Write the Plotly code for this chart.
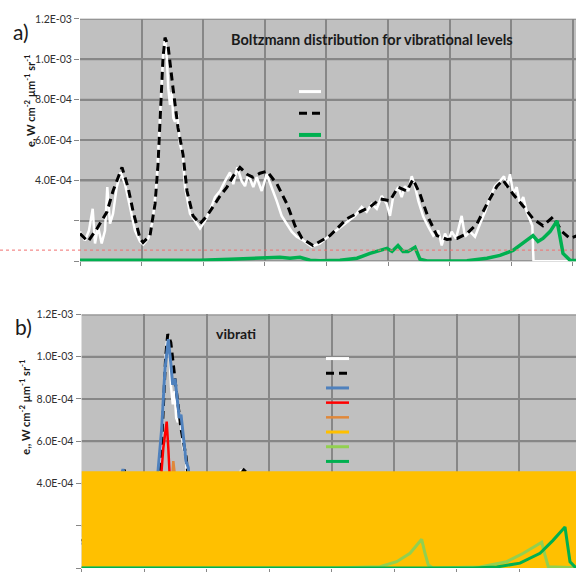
import plotly.graph_objects as go

W, H = 576, 572
SCALE = 1e-4  # series values below are stored in units of 1E-04

# ---------------- panel a data ----------------
x_meas = [0.000, 0.081, 0.146, 0.206, 0.244, 0.292, 0.352, 0.406, 0.443, 0.487,
          0.536, 0.596, 0.661, 0.731, 0.812, 0.893, 0.974, 1.028, 1.109, 1.180,
          1.245, 1.299, 1.352, 1.380, 1.407, 1.433, 1.461, 1.489, 1.515, 1.542,
          1.580, 1.623, 1.667, 1.705, 1.786, 1.867, 1.948, 2.029, 2.110, 2.192,
          2.273, 2.354, 2.435, 2.489, 2.554, 2.625, 2.679, 2.732, 2.813, 2.869,
          2.950, 3.031, 3.112, 3.193, 3.274, 3.356, 3.437, 3.518, 3.625, 3.761,
          3.896, 4.031, 4.140, 4.248, 4.356, 4.464, 4.573, 4.654, 4.735, 4.817,
          4.898, 4.979, 5.032, 5.086, 5.167, 5.222, 5.276, 5.330, 5.385, 5.438,
          5.492, 5.573, 5.654, 5.735, 5.817, 5.872, 5.925, 5.979, 6.034, 6.104,
          6.196, 6.250, 6.331, 6.412, 6.494, 6.575, 6.656, 6.737, 6.818, 6.883,
          6.927, 6.981, 7.034, 7.089, 7.143, 7.196, 7.252, 7.305, 7.343, 7.362,
          8.100]
y_meas = [1.47, 1.03, 1.52, 2.60, 0.88, 1.71, 0.88, 1.52, 3.67, 1.86,
          2.35, 3.67, 4.40, 3.82, 2.69, 1.52, 0.98, 0.83, 1.13, 2.00,
          3.97, 7.25, 10.33, 11.00, 10.20, 8.57, 7.74, 8.37, 7.10, 6.90,
          7.25, 5.78, 5.29, 3.67, 2.35, 2.00, 1.62, 2.00, 2.50, 3.18,
          3.48, 3.97, 4.40, 3.82, 4.65, 3.97, 3.72, 4.31, 3.67, 4.16,
          3.48, 4.31, 3.67, 2.99, 2.25, 1.86, 1.47, 1.22, 1.03, 0.73,
          0.88, 1.22, 1.47, 1.76, 2.00, 2.25, 2.69, 2.45, 2.84, 2.60,
          3.23, 2.84, 2.25, 3.23, 3.67, 3.18, 3.72, 3.48, 4.21, 3.72,
          2.99, 2.20, 1.71, 1.27, 1.52, 0.78, 1.37, 1.03, 1.47, 1.13,
          2.25, 1.22, 1.47, 1.22, 1.86, 2.45, 3.18, 3.72, 3.97, 4.21,
          3.67, 4.31, 3.33, 3.67, 2.84, 3.18, 2.45, 2.00, 1.76, 0.00,
          0.00]

x_model = [0.000, 0.130, 0.276, 0.438, 0.536, 0.682, 0.779, 0.860, 0.974, 1.023,
           1.136, 1.218, 1.266, 1.299, 1.347, 1.380, 1.429, 1.510, 1.591, 1.672,
           1.737, 1.834, 1.948, 2.062, 2.159, 2.273, 2.386, 2.484, 2.597, 2.711,
           2.808, 2.922, 3.036, 3.198, 3.360, 3.490, 3.604, 3.782, 4.058, 4.334,
           4.545, 4.708, 4.870, 5.032, 5.162, 5.308, 5.406, 5.519, 5.649, 5.795,
           5.958, 6.120, 6.282, 6.445, 6.607, 6.769, 6.867, 7.029, 7.192, 7.354,
           7.516, 7.679, 7.825, 7.955, 8.100]
y_model = [1.37, 0.98, 1.62, 2.45, 3.48, 4.65, 3.67, 2.50, 1.13, 0.93,
           1.27, 2.84, 4.80, 7.25, 10.04, 11.07, 10.68, 8.57, 6.61, 5.29,
           3.48, 2.25, 1.86, 2.25, 2.69, 3.23, 3.67, 4.21, 4.64, 4.31,
           4.16, 4.36, 4.46, 3.82, 2.84, 1.76, 1.13, 0.78, 1.27, 2.11,
           2.45, 2.69, 3.09, 2.99, 3.67, 3.48, 4.06, 3.33, 2.20, 1.27,
           1.08, 1.13, 1.37, 1.86, 2.84, 3.72, 4.02, 3.33, 2.74, 2.11,
           1.76, 2.20, 1.47, 1.13, 1.30]

x_level_a = [0.000, 1.948, 2.435, 3.003, 3.247, 3.409, 3.571, 3.734, 3.896, 4.221,
             4.497, 4.708, 4.870, 4.984, 5.065, 5.162, 5.244, 5.325, 5.438, 5.519,
             5.633, 6.282, 6.607, 6.818, 7.029, 7.192, 7.354, 7.435, 7.516, 7.630,
             7.744, 7.792, 7.841, 7.955, 8.100]
y_level_a = [0.05, 0.05, 0.10, 0.20, 0.20, 0.15, 0.20, 0.05, 0.03, 0.05,
             0.15, 0.39, 0.54, 0.64, 0.49, 0.78, 0.49, 0.49, 0.69, 0.10,
             0.02, 0.03, 0.15, 0.29, 0.54, 0.88, 1.27, 0.98, 1.13, 1.47,
             2.00, 1.22, 0.39, 0.05, 0.03]

threshold_a = 0.553

# ---------------- panel b data ----------------
x_blue = [0.00, 0.13, 0.28, 0.44, 0.54, 0.664, 0.78, 0.86, 0.97, 1.02,
          1.14, 1.229, 1.283, 1.336, 1.389, 1.427, 1.459, 1.496, 1.533, 1.565,
          1.592, 1.629, 1.672, 1.709, 1.74, 1.83, 1.95, 2.16, 2.39, 2.60,
          2.81, 3.04, 3.20, 3.36, 3.49, 3.78, 4.06, 4.33, 4.71, 5.03,
          5.16, 5.41, 5.65, 5.96, 6.28, 6.61, 6.87, 7.19, 7.52, 8.10]
y_blue = [1.20, 0.90, 1.50, 2.30, 3.30, 4.68, 3.50, 2.40, 1.00, 0.85,
          1.20, 4.74, 6.60, 9.43, 10.83, 9.74, 8.67, 8.96, 8.02, 7.09,
          7.26, 6.32, 5.06, 4.74, 3.30, 2.00, 1.60, 2.20, 3.00, 3.60,
          3.30, 3.40, 2.90, 2.10, 1.30, 0.55, 0.90, 1.40, 1.70, 1.70,
          2.00, 2.20, 1.20, 0.70, 0.80, 1.40, 1.60, 1.20, 0.80, 0.50]

x_red = [0.00, 1.10, 1.20, 1.309, 1.363, 1.389, 1.45, 1.60, 2.00, 8.10]
y_red = [0.00, 0.30, 1.50, 5.68, 6.93, 5.68, 2.00, 0.80, 0.30, 0.00]

x_orange = [0.00, 1.30, 1.40, 1.45, 1.469, 1.49, 1.55, 1.70, 8.10]
y_orange = [0.00, 0.30, 2.00, 4.60, 5.06, 4.50, 2.00, 0.40, 0.00]

x_yellow = [0.00, 8.10]
y_yellow = [4.58, 4.58]

x_lgreen = [0.000, 4.000, 4.776, 5.043, 5.256, 5.363, 5.443, 5.496, 5.549, 5.624,
            6.376, 6.803, 7.069, 7.283, 7.363, 7.416, 7.469, 8.100]
y_lgreen = [0.00, 0.00, 0.06, 0.30, 0.70, 1.08, 1.36, 0.70, 0.14, 0.00,
            0.05, 0.30, 0.70, 1.08, 1.22, 0.61, 0.06, 0.00]

x_green_b = [0.000, 6.264, 6.643, 7.016, 7.336, 7.544, 7.736, 7.773, 7.816, 7.896, 8.100]
y_green_b = [0.00, 0.00, 0.05, 0.23, 0.70, 1.31, 1.94, 1.17, 0.30, 0.05, 0.03]

# ---------------- axes ----------------
y_tickvals = [0, 2, 4, 6, 8, 10, 12]
y_ticktext = ["", "", "4.0E-04", "6.0E-04", "8.0E-04", "1.0E-03", "1.2E-03"]
x_range_a = [0, 8.052]
x_range_b = [0, 7.912]

GRID = "#878787"
BG = "#c0c0c0"
C_WHITE = "#ffffff"
C_BLACK = "#000000"
C_BLUE = "#4f81bd"
C_RED = "#ff0000"
C_ORANGE = "#e0883a"
C_YELLOW = "#ffc000"
C_LGREEN = "#92d050"
C_GREEN = "#00b050"
DASH = "8px,5px"


def sc(vals):
    return [v * SCALE for v in vals]


def hgrid(xa, ya, rng):
    """Horizontal grid at every y tick, drawn as the first trace of a panel."""
    gx, gy = [], []
    for v in y_tickvals:
        gx += [rng[0], rng[1] + 0.1, None]
        gy += [v * SCALE, v * SCALE, None]
    return go.Scatter(x=gx, y=gy, mode="lines", hoverinfo="skip",
                      line=dict(color=GRID, width=2), xaxis=xa, yaxis=ya)


fig = go.Figure()

# panel a
fig.add_trace(hgrid("x", "y", x_range_a))
fig.add_trace(go.Scatter(x=x_meas, y=sc(y_meas), mode="lines",
                         line=dict(color=C_WHITE, width=2.5), xaxis="x", yaxis="y"))
fig.add_trace(go.Scatter(x=x_model, y=sc(y_model), mode="lines",
                         line=dict(color=C_BLACK, width=3, dash=DASH), xaxis="x", yaxis="y"))
fig.add_trace(go.Scatter(x=x_level_a, y=sc(y_level_a), mode="lines",
                         line=dict(color=C_GREEN, width=3.5), xaxis="x", yaxis="y"))

# panel b
fig.add_trace(hgrid("x2", "y2", x_range_b))
fig.add_trace(go.Scatter(x=x_meas, y=sc(y_meas), mode="lines",
                         line=dict(color=C_WHITE, width=2.5), xaxis="x2", yaxis="y2"))
fig.add_trace(go.Scatter(x=x_model, y=sc(y_model), mode="lines",
                         line=dict(color=C_BLACK, width=3, dash=DASH), xaxis="x2", yaxis="y2"))
fig.add_trace(go.Scatter(x=x_blue, y=sc(y_blue), mode="lines",
                         line=dict(color=C_BLUE, width=3), xaxis="x2", yaxis="y2"))
fig.add_trace(go.Scatter(x=x_red, y=sc(y_red), mode="lines",
                         line=dict(color=C_RED, width=2.5), xaxis="x2", yaxis="y2"))
fig.add_trace(go.Scatter(x=x_orange, y=sc(y_orange), mode="lines",
                         line=dict(color=C_ORANGE, width=2.5), xaxis="x2", yaxis="y2"))
fig.add_trace(go.Scatter(x=x_yellow, y=sc(y_yellow), mode="lines", fill="tozeroy",
                         fillcolor=C_YELLOW, line=dict(color=C_YELLOW, width=0),
                         xaxis="x2", yaxis="y2"))
fig.add_trace(go.Scatter(x=x_lgreen, y=sc(y_lgreen), mode="lines",
                         line=dict(color=C_LGREEN, width=3), xaxis="x2", yaxis="y2"))
fig.add_trace(go.Scatter(x=x_green_b, y=sc(y_green_b), mode="lines",
                         line=dict(color=C_GREEN, width=3), xaxis="x2", yaxis="y2"))


def px(x):
    return x / W


def py(y):
    return 1 - y / H


def x_axis(lo, hi, rng, anchor):
    return dict(domain=[lo, hi], range=rng, anchor=anchor, dtick=1, tick0=0,
                showgrid=True, gridcolor=GRID, gridwidth=2, zeroline=False,
                ticks="outside", ticklen=4, tickcolor=GRID, showticklabels=False)


def y_axis(lo, hi, anchor):
    return dict(domain=[lo, hi], range=[0, 12 * SCALE], anchor=anchor,
                tickvals=[v * SCALE for v in y_tickvals], ticktext=y_ticktext,
                showgrid=True, gridcolor=GRID, gridwidth=2, zeroline=False,
                ticks="outside", ticklen=5, tickcolor=GRID,
                tickfont=dict(family="Lato", size=10.5, color="#303030"))


fig.update_layout(
    width=W, height=H,
    margin=dict(l=0, r=0, t=0, b=0),
    paper_bgcolor="white", plot_bgcolor=BG,
    showlegend=False,
    xaxis=x_axis(px(80), 1, x_range_a, "y"),
    yaxis=y_axis(py(258), py(13), "x"),
    xaxis2=x_axis(px(81.5), 1, x_range_b, "y2"),
    yaxis2=y_axis(py(568), py(311.7), "x2"),
)

# thin red reference line across panel a
fig.add_shape(type="line", xref="paper", x0=0, x1=1, yref="y",
              y0=threshold_a * SCALE, y1=threshold_a * SCALE,
              line=dict(color="#f07070", width=1, dash="dot"))

# legend swatches (labels hidden)
legend_a = [(C_WHITE, "solid", 3), (C_BLACK, DASH, 3), (C_GREEN, "solid", 4)]
for i, (c, d, w) in enumerate(legend_a):
    yy = 86.5 + i * 21.9
    fig.add_shape(type="line", xref="paper", yref="paper", x0=px(299), x1=px(321),
                  y0=py(yy), y1=py(yy), line=dict(color=c, width=w, dash=d))

legend_b = [(C_WHITE, "solid", 3), (C_BLACK, DASH, 3), (C_BLUE, "solid", 3),
            (C_RED, "solid", 2.5), (C_ORANGE, "solid", 2.5), (C_YELLOW, "solid", 3),
            (C_LGREEN, "solid", 3), (C_GREEN, "solid", 3)]
for i, (c, d, w) in enumerate(legend_b):
    yy = 356.3 + i * 14.85
    fig.add_shape(type="line", xref="paper", yref="paper", x0=px(326), x1=px(349),
                  y0=py(yy), y1=py(yy), line=dict(color=c, width=w, dash=d))

TXT = "#1a1a1a"
ann = [
    dict(text="a)", x=px(21), y=py(26), font=dict(family="Lato", size=21, color=TXT)),
    dict(text="b)", x=px(23), y=py(324), font=dict(family="Lato", size=21, color=TXT)),
    dict(text="<b>Boltzmann distribution for vibrational levels</b>", x=px(371.5), y=py(34),
         font=dict(family="Lato", size=14.5, color=TXT)),
    dict(text="<b>e, W cm<sup>-2</sup> µm<sup>-1</sup> sr<sup>-1</sup></b>", x=px(30), y=py(96),
         textangle=-90, font=dict(family="Lato", size=11, color=TXT)),
    dict(text="<b>e,, W cm<sup>-2</sup> µm<sup>-1</sup> sr<sup>-1</sup></b>", x=px(25), y=py(406),
         textangle=-90, font=dict(family="Lato", size=11, color=TXT)),
    dict(text="<b>vibrati</b>", x=px(236), y=py(331),
         font=dict(family="Lato", size=14, color=TXT)),
]
for a in ann:
    fig.add_annotation(xref="paper", yref="paper", showarrow=False,
                       xanchor="center", yanchor="middle", **a)

fig.write_html("out.html")
